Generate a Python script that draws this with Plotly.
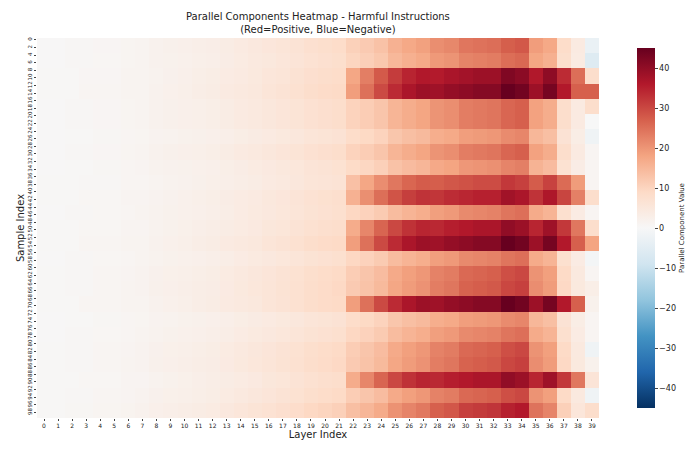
import numpy as np
import plotly.graph_objects as go

layers = list(range(40))
samples = list(range(100))

# column profiles (fraction of group peak), layers 0..38
weak_profile = [0.01, 0.01, 0.02, 0.02, 0.03, 0.03, 0.04, 0.05, 0.07, 0.08,
                0.09, 0.10, 0.11, 0.13, 0.15, 0.17, 0.19, 0.21, 0.23, 0.26,
                0.28, 0.30, 0.38, 0.42, 0.47, 0.57, 0.62, 0.66, 0.75, 0.78,
                0.86, 0.88, 0.90, 0.97, 1.00, 0.68, 0.62, 0.30, 0.15]
strong_profile = [0.01, 0.01, 0.01, 0.02, 0.02, 0.02, 0.03, 0.03, 0.04, 0.05,
                  0.06, 0.07, 0.08, 0.09, 0.10, 0.11, 0.13, 0.14, 0.16, 0.18,
                  0.19, 0.20, 0.42, 0.55, 0.66, 0.75, 0.82, 0.86, 0.85, 0.88,
                  0.90, 0.92, 0.92, 1.00, 0.97, 0.86, 0.96, 0.80, 0.60]

# groups of 4 samples: peak value, profile type, last layer value
group_peak = [28, 26, 42, 45, 27, 27, 22, 27, 23, 32, 38, 25, 40,
              45, 25, 30, 31, 45, 22, 25, 30, 31, 40, 30, 36]
group_strong = [0, 0, 1, 1, 0, 0, 0, 0, 0, 1, 1, 0, 1,
                1, 0, 0, 0, 1, 0, 0, 0, 0, 1, 0, 0]
group_last = [-3, -6, 8, 27, 8, 0, -2, 1, 1, 1, 8, 1, 8,
              18, -1, 1, 3, 2, 1, 1, -2, 2, 6, -2, 8]

z = []
for s in samples:
    g = s // 4
    prof = strong_profile if group_strong[g] else weak_profile
    row = [group_peak[g] * p for p in prof] + [group_last[g]]
    z.append(row)

fig = go.Figure(go.Heatmap(
    z=z, x=layers, y=samples,
    colorscale="RdBu_r", zmin=-45, zmax=45,
    colorbar=dict(
        title=dict(text="Parallel Component Value", side="right",
                   font=dict(size=7)),
        tickvals=[-40, -30, -20, -10, 0, 10, 20, 30, 40],
        tickfont=dict(size=8), thickness=18, len=1, y=0.5,
        outlinewidth=0, ticks="outside", ticklen=3, x=1.05,
    ),
))

fig.update_layout(
    width=700, height=460,
    font=dict(family="DejaVu Sans", color="#222"),
    margin=dict(l=22, r=82, t=30, b=50),
    plot_bgcolor="white", paper_bgcolor="white",
    xaxis=dict(title=dict(text="Layer Index", font=dict(size=10), standoff=2),
               tickmode="array", tickvals=layers, tickfont=dict(size=6),
               ticks="outside", ticklen=2, showgrid=False),
    yaxis=dict(title=dict(text="Sample Index", font=dict(size=10), standoff=0),
               tickmode="array", tickvals=samples[::2], tickfont=dict(size=5.5),
               tickangle=-90, autorange="reversed",
               ticks="outside", ticklen=2, showgrid=False),
    annotations=[dict(text="Parallel Components Heatmap - Harmful Instructions<br>(Red=Positive, Blue=Negative)",
                      xref="paper", yref="paper", x=0.5, y=1.0, yshift=1,
                      xanchor="center", yanchor="bottom", showarrow=False,
                      font=dict(size=10))],
)

fig.write_html("out.html")
